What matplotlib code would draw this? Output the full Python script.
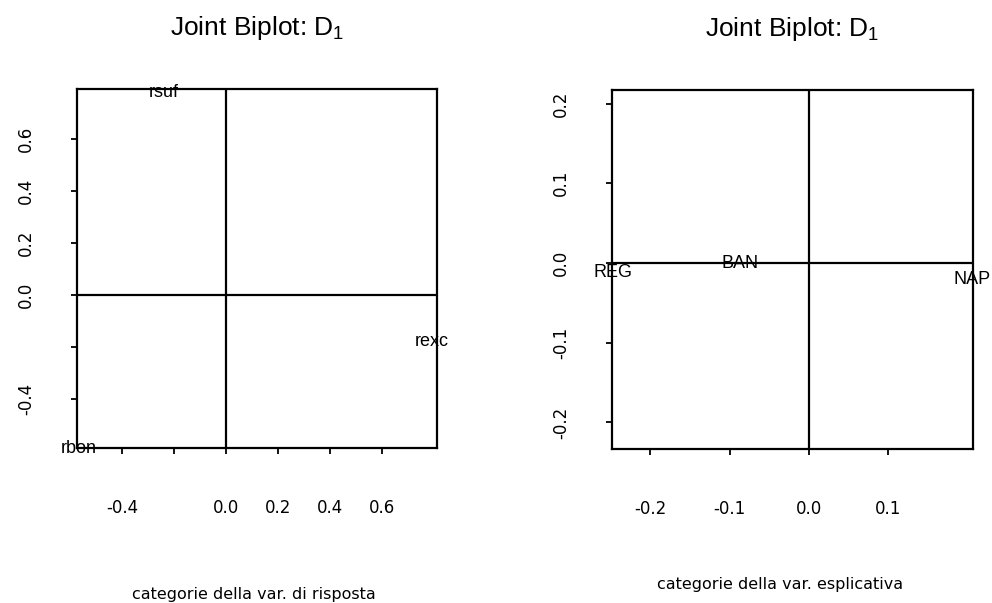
import matplotlib
matplotlib.use("Agg")
import matplotlib.pyplot as plt

plt.rcParams['axes.unicode_minus'] = False
plt.rcParams['mathtext.fontset'] = 'custom'
plt.rcParams['mathtext.rm'] = 'Liberation Sans'
plt.rcParams['mathtext.it'] = 'Liberation Sans'

# Categorie della variabile di risposta (pannello sinistro)
resp_labels = ['rsuf', 'rexc', 'rbon']
resp_x = [-0.241, 0.793, -0.567]
resp_y = [0.778, -0.180, -0.590]

# Categorie della variabile esplicativa (pannello destro)
expl_labels = ['REG', 'BAN', 'NAP']
expl_x = [-0.247, -0.087, 0.2055]
expl_y = [-0.0125, -0.001, -0.021]

# Tacche degli assi
left_xticks = [-0.4, -0.2, 0.0, 0.2, 0.4, 0.6]
left_xticklabels = ['-0.4', '', '0.0', '0.2', '0.4', '0.6']
left_yticks = [-0.4, -0.2, 0.0, 0.2, 0.4, 0.6]
left_yticklabels = ['-0.4', '', '0.0', '0.2', '0.4', '0.6']
right_xticks = [-0.2, -0.1, 0.0, 0.1]
right_xticklabels = ['-0.2', '-0.1', '0.0', '0.1']
right_yticks = [-0.2, -0.1, 0.0, 0.1, 0.2]
right_yticklabels = ['-0.2', '-0.1', '0.0', '0.1', '0.2']

title = 'Joint Biplot: D$_1$'
left_xlabel = 'categorie della var. di risposta'
right_xlabel = 'categorie della var. esplicativa'

fig = plt.figure(figsize=(9.92, 6.03), dpi=100)
ax1 = fig.add_axes([0.0776, 0.2570, 0.3629, 0.5954])
ax2 = fig.add_axes([0.6169, 0.2554, 0.3639, 0.5954])


def panel(ax, labs, xs, ys, xl, yl, xt, xtl, yt, ytl, xlab, lab_pos):
    ax.set_xlim(xl)
    ax.set_ylim(yl)
    ax.axhline(0, color='black', lw=1.6)
    ax.axvline(0, color='black', lw=1.6)
    for s, x, y in zip(labs, xs, ys):
        ax.text(x, y, s, ha='center', va='center', fontsize=13,
                family='Liberation Sans', clip_on=False)
    for sp in ax.spines.values():
        sp.set_linewidth(1.6)
    ax.set_xticks(xt)
    ax.set_xticklabels(xtl, fontsize=12, family='DejaVu Sans')
    ax.set_yticks(yt)
    ax.set_yticklabels(ytl, fontsize=12, family='DejaVu Sans',
                       rotation=90, va='center')
    ax.tick_params(axis='x', direction='out', length=4, width=1.3, pad=33)
    ax.tick_params(axis='y', direction='out', length=4, width=1.3, pad=26)
    ax.set_title(title, fontsize=19, family='Liberation Sans', pad=39)
    ax.set_xlabel(xlab, fontsize=11.5, family='DejaVu Sans', va='top')
    ax.xaxis.set_label_coords(lab_pos[0], lab_pos[1])


panel(ax1, resp_labels, resp_x, resp_y, (-0.5731, 0.8115), (-0.5885, 0.7923),
      left_xticks, left_xticklabels, left_yticks, left_yticklabels,
      left_xlabel, (0.492, -0.387))
panel(ax2, expl_labels, expl_x, expl_y, (-0.2484, 0.2068), (-0.2334, 0.2171),
      right_xticks, right_xticklabels, right_yticks, right_yticklabels,
      right_xlabel, (0.465, -0.357))

fig.savefig('out.png', dpi=100)
